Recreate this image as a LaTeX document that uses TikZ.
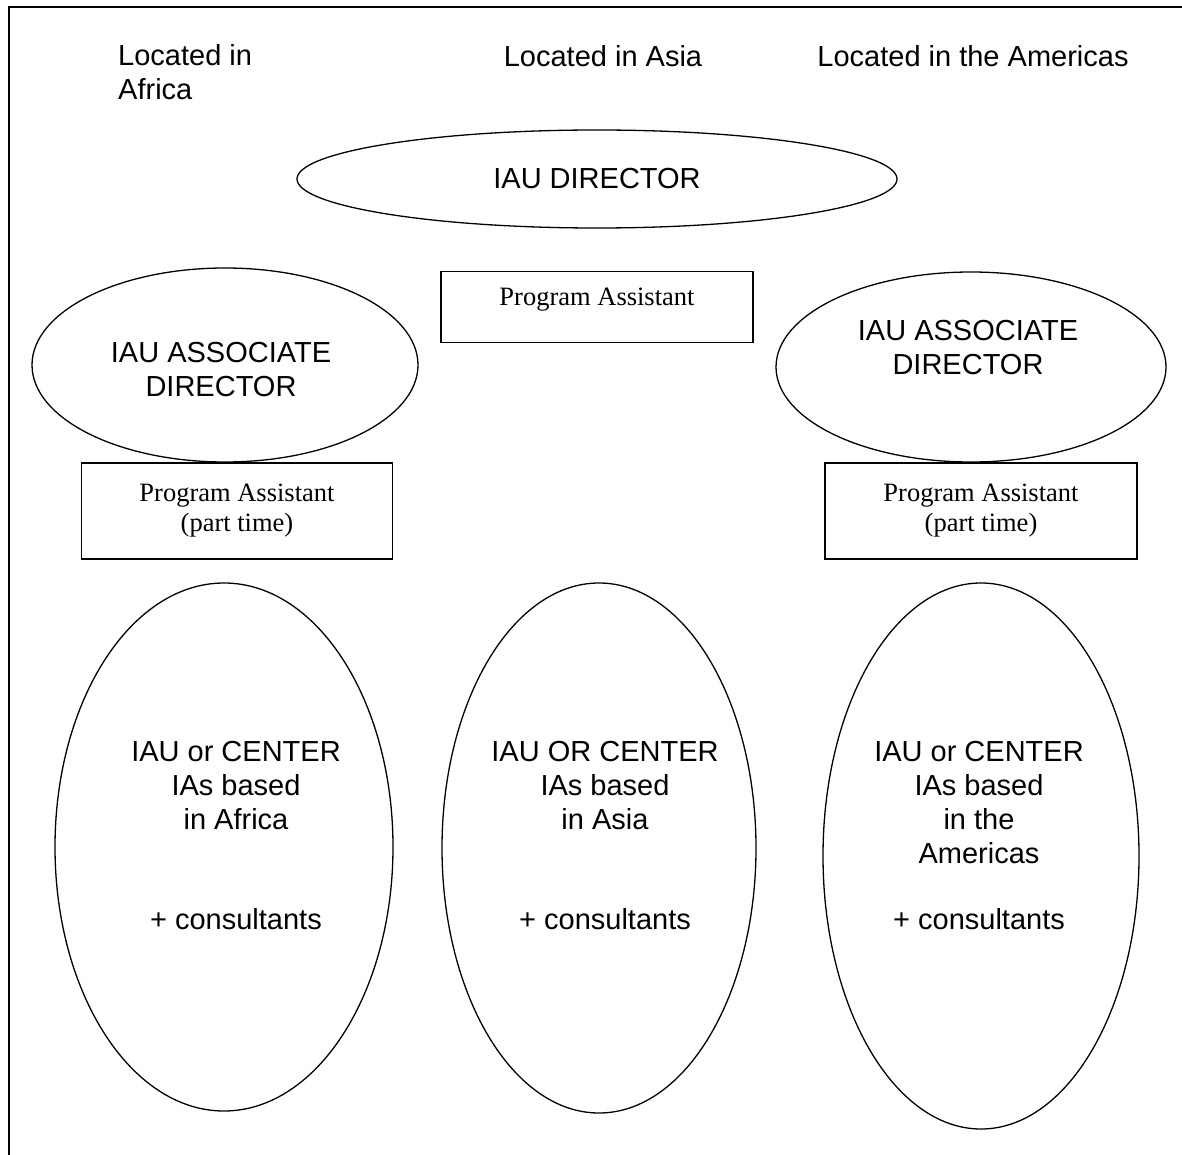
\documentclass[tikz,border=0pt]{standalone}
\usepackage{fontspec}
\newfontfamily\arialfont{Liberation Sans}
\newfontfamily\timesfont{Liberation Serif}
\usetikzlibrary{shapes.geometric}

\begin{document}
\begin{tikzpicture}[x=1pt,y=-1pt,node distance=146pt,oval/.style={draw,ellipse,line width=1.3pt,inner sep=0},pa box/.style={draw,rectangle,line width=1.3pt,inner sep=0,align=center,font=\timesfont\fontsize{26.5}{30}\selectfont},big text/.style={inner sep=0,align=center,font=\arialfont\fontsize{29}{34}\selectfont}]
            \useasboundingbox (0,0) rectangle (1182,1155);
            \draw[line width=2pt] (9,1155) -- (9,7) -- (1182,7);

            % regions
            \node[big text, align=left, anchor=north west] (locaf) at (118,44) {Located in\\Africa};
            \node[big text] (locas) at (603,56) {Located in Asia};
            \node[big text] (locam) at (973,56) {Located in the Americas};

            % directors
            \node[oval, big text, minimum width=600, minimum height=98] (dir) at (597,179) {IAU DIRECTOR};
            \node[pa box, minimum width=312, minimum height=71, text depth=20pt] (pa) at (597,307) {Program Assistant};
            \node[oval, minimum width=386, minimum height=194] (adl) at (225,365) {};
            \node[big text] (adltxt) at (221,370) {IAU ASSOCIATE\\DIRECTOR};
            \node[oval, minimum width=390, minimum height=190] (adr) at (971,367) {};
            \node[big text] (adrtxt) at (968,348) {IAU ASSOCIATE\\DIRECTOR};
            \node[pa box, minimum width=311, minimum height=96] (pal) [below of = adl, xshift = 12] {Program Assistant\\(part time)};
            \node[pa box, minimum width=312, minimum height=96] (par) [below of = adr, xshift = 10, yshift = 2] {Program Assistant\\(part time)};

            % units
            \node[oval, minimum width=338, minimum height=528] (ial) at (224,847) {};
            \node[big text] (ialtxt) at (236,836) {IAU or CENTER\\IAs based\\in Africa\\[66pt]+ consultants};
            \node[oval, minimum width=314, minimum height=530] (ias) at (599,848) {};
            \node[big text] (iastxt) at (605,836) {IAU OR CENTER\\IAs based\\in Asia\\[66pt]+ consultants};
            \node[oval, minimum width=316, minimum height=546] (iam) at (981,856) {};
            \node[big text] (iamtxt) at (979,836) {IAU or CENTER\\IAs based\\in the\\Americas\\[32pt]+ consultants};
        \end{tikzpicture}
\end{document}
